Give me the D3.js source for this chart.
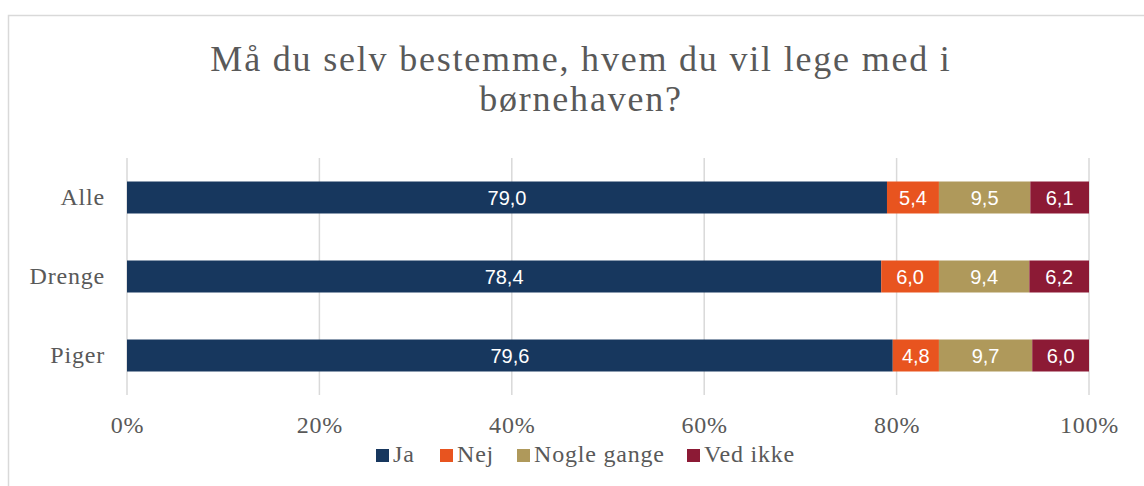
<!DOCTYPE html>
<html lang="da">
<head>
  <meta charset="UTF-8">
  <title>Må du selv bestemme</title>
  <script src="https://d3js.org/d3.v7.min.js"></script>
  <style>
    body { margin: 0; background: #fff; }
    svg { display: block; }
  </style>
</head>
<body>
  <svg width="1144" height="486"></svg>
  <script>
    // data
    const groups = ["Alle", "Drenge", "Piger"];
    const seriesNames = ["Ja", "Nej", "Nogle gange", "Ved ikke"];
    const ja = [79.0, 78.4, 79.6];
    const nej = [5.4, 6.0, 4.8];
    const nogleGange = [9.5, 9.4, 9.7];
    const vedIkke = [6.1, 6.2, 6.0];
    const ticks = [0, 20, 40, 60, 80, 100];
    const colors = ["#17375e", "#e8541f", "#af995b", "#8c1a35"];

    const titleLines = ["Må du selv bestemme, hvem du vil lege med i", "børnehaven?"];

    const rows = groups.map((g, i) => ({
      group: g, "Ja": ja[i], "Nej": nej[i], "Nogle gange": nogleGange[i], "Ved ikke": vedIkke[i]
    }));
    const stacked = d3.stack().keys(seriesNames)(rows);

    const svg = d3.select("svg");
    const serif = "'Liberation Serif', 'DejaVu Serif', serif";
    const textColor = "#595959";

    // ramme
    svg.append("rect")
      .attr("x", 8.5).attr("y", 15.5)
      .attr("width", 1300).attr("height", 600)
      .attr("fill", "none").attr("stroke", "#d9d9d9").attr("stroke-width", 1.5);

    // titel (to linjer)
    svg.append("g")
      .attr("text-anchor", "middle")
      .attr("font-family", serif).attr("font-size", 36)
      .attr("letter-spacing", 1.8)
      .attr("fill", textColor)
      .selectAll("text")
      .data(titleLines)
      .enter().append("text")
      .attr("x", 581)
      .attr("y", (d, i) => 71 + i * 40)
      .text(d => d);

    const x = d3.scaleLinear().domain([0, 100]).range([127, 1089]);
    const y = d3.scaleBand().domain(groups).range([158, 395])
      .paddingInner(0.595).paddingOuter(0.2975);

    // gitterlinjer
    svg.append("g").selectAll("line")
      .data(ticks)
      .enter().append("line")
      .attr("x1", d => x(d)).attr("x2", d => x(d))
      .attr("y1", 158).attr("y2", 395)
      .attr("stroke", "#d9d9d9").attr("stroke-width", 1.5);

    // x akse
    const xAxis = d3.axisBottom(x).tickValues(ticks).tickSize(0).tickPadding(0)
      .tickFormat(d => d + "%");
    const xAxisG = svg.append("g").attr("transform", "translate(0, 411)").call(xAxis);
    xAxisG.select(".domain").remove();
    xAxisG.selectAll("text")
      .attr("font-family", serif).attr("font-size", 24).attr("fill", textColor)
      .attr("letter-spacing", 0.8)
      .attr("dy", "0.9em");

    // y akse
    const yAxis = d3.axisLeft(y).tickSize(0).tickPadding(22);
    const yAxisG = svg.append("g").attr("transform", "translate(127, 0)").call(yAxis);
    yAxisG.select(".domain").remove();
    yAxisG.selectAll("text")
      .attr("font-family", serif).attr("font-size", 24).attr("fill", textColor)
      .attr("letter-spacing", 0.8);

    // bjælker
    const layer = svg.append("g").selectAll("g")
      .data(stacked)
      .enter().append("g")
      .attr("fill", (d, i) => colors[i]);

    layer.selectAll("rect")
      .data(d => d)
      .enter().append("rect")
      .attr("x", d => x(d[0]))
      .attr("y", d => y(d.data.group))
      .attr("width", d => x(Math.min(d[1], 100)) - x(d[0]))
      .attr("height", y.bandwidth());

    // værdier i bjælker
    layer.selectAll("text")
      .data(d => d.map(v => ({ v: v, key: d.key })))
      .enter().append("text")
      .attr("x", d => (x(d.v[0]) + x(Math.min(d.v[1], 100))) / 2)
      .attr("y", d => y(d.v.data.group) + y.bandwidth() / 2)
      .attr("dy", "0.36em")
      .attr("text-anchor", "middle")
      .attr("font-family", "'Liberation Sans', Arial, sans-serif")
      .attr("font-size", 20)
      .attr("fill", "#fff")
      .text(d => d3.format(".1f")(d.v.data[d.key]).replace(".", ","));

    // forklaring
    const legendX = [376, 440, 517, 687];
    const legend = svg.append("g").selectAll("g")
      .data(seriesNames)
      .enter().append("g")
      .attr("transform", (d, i) => "translate(" + legendX[i] + ", 449)");
    legend.append("rect")
      .attr("width", 13).attr("height", 13)
      .attr("fill", (d, i) => colors[i]);
    legend.append("text")
      .attr("x", 17).attr("y", 13)
      .attr("font-family", serif).attr("font-size", 24).attr("fill", textColor)
      .attr("letter-spacing", 0.8)
      .text(d => d);
  </script>
</body>
</html>
